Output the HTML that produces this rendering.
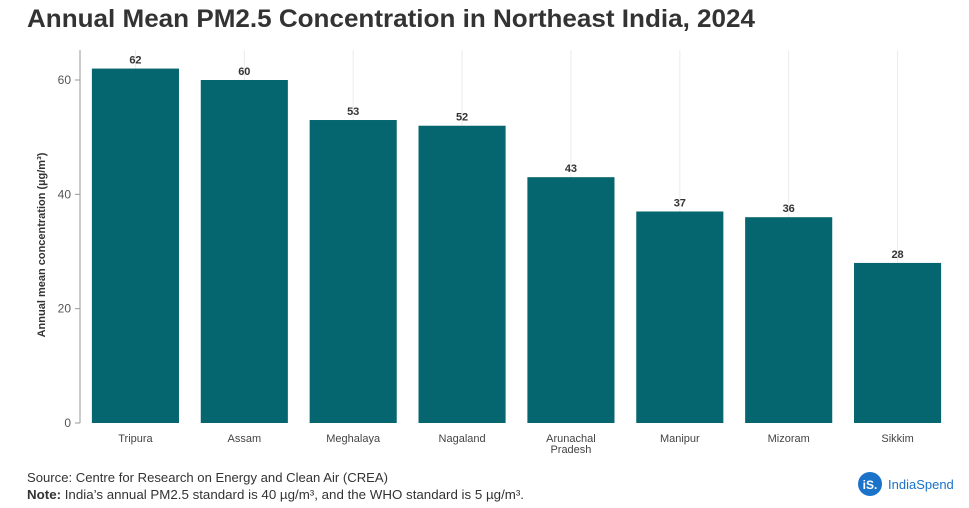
<!DOCTYPE html>
<html><head><meta charset="utf-8"><style>
body{margin:0;background:#fff;font-family:"Liberation Sans",sans-serif;}
svg{display:block}
</style></head><body>
<svg id="chart" width="969" height="508">
<text x="27" y="27" font-size="25" font-weight="bold" fill="#333" textLength="728" lengthAdjust="spacingAndGlyphs">Annual Mean PM2.5 Concentration in Northeast India, 2024</text>
<g id="grid"></g><g id="bars"></g><g id="axes"></g>
<text transform="translate(45,245) rotate(-90)" text-anchor="middle" font-size="11" font-weight="bold" fill="#333">Annual mean concentration (µg/m³)</text>
<text x="27" y="482" font-size="13" fill="#333" textLength="361" lengthAdjust="spacingAndGlyphs">Source: Centre for Research on Energy and Clean Air (CREA)</text>
<text x="27" y="499" font-size="13" fill="#333" textLength="497" lengthAdjust="spacingAndGlyphs"><tspan font-weight="bold">Note:</tspan> India’s annual PM2.5 standard is 40 µg/m³, and the WHO standard is 5 µg/m³.</text>
<g>
<circle cx="870" cy="484" r="12" fill="#1a73c9"/>
<text x="870" y="489" text-anchor="middle" font-size="12" font-weight="bold" fill="#fff">iS.</text>
<text x="888" y="489" font-size="13" fill="#1a73c9">IndiaSpend</text>
</g>
</svg>
<script>
const categories=["Tripura","Assam","Meghalaya","Nagaland","Arunachal Pradesh","Manipur","Mizoram","Sikkim"];
const values=[62,60,53,52,43,37,36,28];
const yTicks=[0,20,40,60];
const NS="http://www.w3.org/2000/svg";
const x0=81,x1=952,y0=423,yTop=80;
const band=(x1-x0)/categories.length;
const xc=i=>x0+band*(i+0.5);
const y=v=>y0-(v/60)*(y0-yTop);
const bw=band*0.8;
function mk(t,a,p){const e=document.createElementNS(NS,t);for(const k in a)e.setAttribute(k,a[k]);p.appendChild(e);return e;}
const grid=document.getElementById('grid'),bars=document.getElementById('bars'),axes=document.getElementById('axes');
categories.forEach((c,i)=>{
 const g=mk('line',{x1:xc(i),x2:xc(i),y1:50,y2:y0,stroke:'#ebebeb'},grid);
 
 
 const r=mk('rect',{x:xc(i)-bw/2,y:y(values[i]),width:bw,height:y0-y(values[i]),fill:'#05666f'},bars);
 
 
 const l=mk('text',{x:xc(i),y:y(values[i])-5,'text-anchor':'middle','font-size':11,'font-weight':'bold',fill:'#333'},bars);
 l.textContent=values[i];
 
 
 const words=c.split(' ');
 words.forEach((w,j)=>{
  const t=mk('text',{x:xc(i),y:442+j*11,'text-anchor':'middle','font-size':11,fill:'#444'},axes);
  t.textContent=w;
  
  
 });
});
mk('line',{x1:80,x2:80,y1:50,y2:y0,stroke:'#999'},axes);
yTicks.forEach(v=>{
 mk('line',{x1:75,x2:80,y1:y(v),y2:y(v),stroke:'#999'},axes);
 const t=mk('text',{x:71,y:y(v)+4,'text-anchor':'end','font-size':12,fill:'#555'},axes);
 t.textContent=v;
 
 
});
</script>
</body></html>
